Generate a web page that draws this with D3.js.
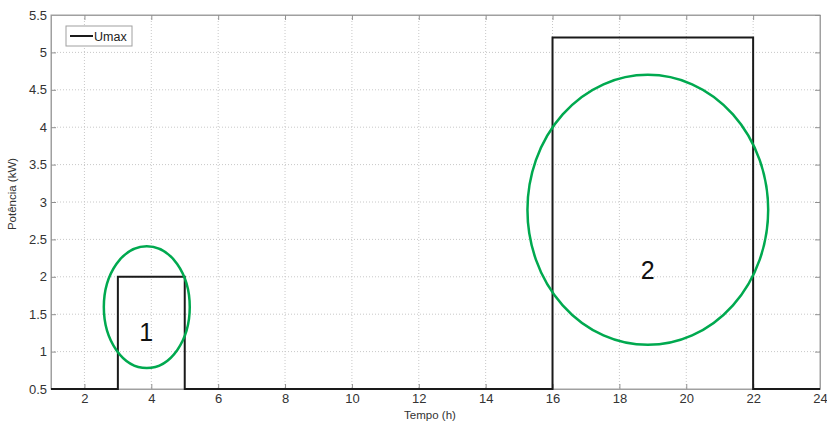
<!DOCTYPE html>
<html><head><meta charset="utf-8">
<script src="https://cdn.jsdelivr.net/npm/d3@7"></script>
<style>
body{margin:0;background:#fff;}
svg{display:block;font-family:Arial,"Liberation Sans",sans-serif;}
</style></head>
<body><svg id="c" width="827" height="421"></svg>
<script>
// Data
const hours = [1,2,3,4,5,6,7,8,9,10,11,12,13,14,15,16,17,18,19,20,21,22,23,24];
const umax  = [0.5,0.5,2,2,0.5,0.5,0.5,0.5,0.5,0.5,0.5,0.5,0.5,0.5,0.5,5.2,5.2,5.2,5.2,5.2,5.2,0.5,0.5,0.5];
const xTicks = [2,4,6,8,10,12,14,16,18,20,22,24];
const yTicks = [0.5,1,1.5,2,2.5,3,3.5,4,4.5,5,5.5];
const seriesName = "Umax";
const xLabel = "Tempo (h)";
const yLabel = "Potência (kW)";
// annotated regions (ellipse bounds and label position, in data units)
const regions = [
  {label:"1", x0:2.58, x1:5.15, y0:0.78, y1:2.41, tx:3.85, ty:1.14},
  {label:"2", x0:15.25, x1:22.45, y0:1.09, y1:4.70, tx:18.85, ty:1.97}
];

const svg = d3.select("#c");
const L=51, R=820, T=15, B=389;
const x = d3.scaleLinear().domain([1,24]).range([L,R]);
const y = d3.scaleLinear().domain([0.5,5.5]).range([B,T]);

// grid
const g = svg.append("g");
g.selectAll(".gx").data(xTicks.filter(d=>d<24)).join("line")
  .attr("x1",d=>x(d)).attr("x2",d=>x(d)).attr("y1",T).attr("y2",B)
  .attr("stroke","#c8c8c8").attr("stroke-width",1).attr("stroke-dasharray","1,2");
g.selectAll(".gy").data(yTicks.filter(d=>d>0.5&&d<5.5)).join("line")
  .attr("x1",L).attr("x2",R).attr("y1",d=>y(d)).attr("y2",d=>y(d))
  .attr("stroke","#c8c8c8").attr("stroke-width",1).attr("stroke-dasharray","1,2");

// frame
svg.append("rect").attr("x",L).attr("y",T).attr("width",R-L).attr("height",B-T)
  .attr("fill","none").attr("stroke","#a0a0a0").attr("stroke-width",1);

// axes
const ax = svg.append("g").attr("transform",`translate(0,${B})`)
  .call(d3.axisBottom(x).tickValues(xTicks).tickSizeInner(-5).tickSizeOuter(0).tickPadding(5));
const ay = svg.append("g").attr("transform",`translate(${L},0)`)
  .call(d3.axisLeft(y).tickValues(yTicks).tickFormat(d3.format("")).tickSizeInner(-5).tickSizeOuter(0).tickPadding(4));
const at = svg.append("g").attr("transform",`translate(0,${T})`)
  .call(d3.axisTop(x).tickValues(xTicks).tickSizeInner(-5).tickSizeOuter(0).tickFormat(""));
const ar = svg.append("g").attr("transform",`translate(${R},0)`)
  .call(d3.axisRight(y).tickValues(yTicks).tickSizeInner(-5).tickSizeOuter(0).tickFormat(""));
[ax,ay,at,ar].forEach(a=>{
  a.select(".domain").attr("stroke","#a0a0a0");
  a.selectAll(".tick line").attr("stroke","#909090");
  a.selectAll(".tick text").attr("fill","#333").attr("font-size","13px").attr("font-family","Arial,'Liberation Sans',sans-serif");
});

// axis labels
svg.append("text").attr("x",430).attr("y",419).attr("text-anchor","middle")
  .attr("font-size","11.5px").attr("fill","#333").text(xLabel);
svg.append("text").attr("transform",`translate(16,194) rotate(-90)`).attr("text-anchor","middle")
  .attr("font-size","11.5px").attr("fill","#333").text(yLabel);

// series line
const line = d3.line().x((d,i)=>x(hours[i])).y(d=>y(d)).curve(d3.curveStepAfter);
svg.append("path").datum(umax).attr("d",line).attr("fill","none")
  .attr("stroke","#1a1a1a").attr("stroke-width",2);

// legend
const lg = svg.append("g");
lg.append("rect").attr("x",66).attr("y",26).attr("width",66).attr("height",20)
  .attr("fill","#fff").attr("stroke","#a0a0a0");
lg.append("line").attr("x1",70).attr("x2",93).attr("y1",36).attr("y2",36).attr("stroke","#1a1a1a").attr("stroke-width",2);
lg.append("text").attr("x",94).attr("y",41).attr("font-size","12.5px").attr("fill","#222").text(seriesName);

// annotations
regions.forEach(r=>{
  const cx=(x(r.x0)+x(r.x1))/2, cy=(y(r.y0)+y(r.y1))/2;
  svg.append("ellipse").attr("cx",cx).attr("cy",cy)
    .attr("rx",(x(r.x1)-x(r.x0))/2).attr("ry",(y(r.y0)-y(r.y1))/2)
    .attr("fill","none").attr("stroke","#00a94f").attr("stroke-width",2.5);
  svg.append("text").attr("x",x(r.tx)).attr("y",y(r.ty)).attr("text-anchor","middle")
    .attr("font-size","25px").attr("fill","#111").text(r.label);
});
</script></body></html>
